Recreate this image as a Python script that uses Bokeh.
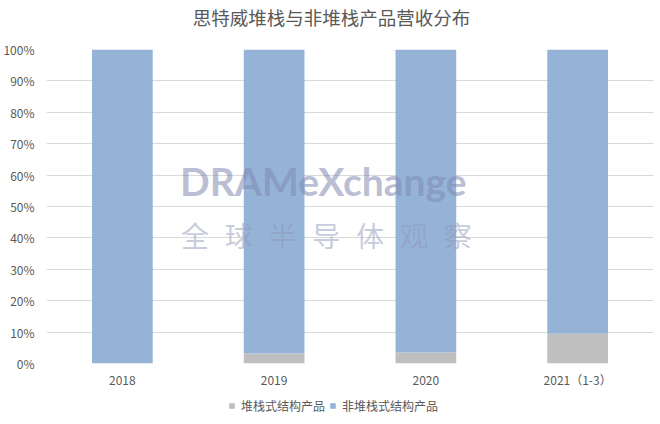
from bokeh.plotting import figure
from bokeh.models import (ColumnDataSource, FactorRange, Range1d, Label, Legend,
                          LegendItem, PrintfTickFormatter, FixedTicker)
from bokeh.layouts import column
from bokeh.embed import file_html
from bokeh.resources import INLINE

# ---- data ----
categories = ["2018", "2019", "2020", "2021（1-3）"]
stacked = [0.0, 3.2, 3.5, 9.5]
non_stacked = [100.0 - v for v in stacked]
series_names = ["堆栈式结构产品", "非堆栈式结构产品"]
title_text = "思特威堆栈与非堆栈产品营收分布"
y_ticks = [0, 10, 20, 30, 40, 50, 60, 70, 80, 90, 100]

FONT = "Noto Sans CJK SC"
TXT = "#595959"
GRID = "#d9d9d9"
colors = ["#bfbfbf", "#95b3d7"]
BL, BR = 46, 3

src = ColumnDataSource(dict(cat=categories, s=stacked, n=non_stacked))

# title strip
p0 = figure(width=656, height=34, x_range=Range1d(BL, 656 - BR),
            y_range=Range1d(0, 34),
            output_backend="svg", toolbar_location=None,
            min_border_left=BL, min_border_right=BR,
            min_border_top=0, min_border_bottom=0)
p0.axis.visible = False
p0.grid.grid_line_color = None
p0.outline_line_color = None
p0.add_layout(Label(x=331, y=18, text=title_text, text_font=FONT,
                    text_font_size="18.5px", text_color=TXT,
                    text_align="center", text_baseline="middle"))

p = figure(x_range=FactorRange(*categories, range_padding=0),
           y_range=Range1d(0, 100),
           width=656, height=365,
           output_backend="svg", toolbar_location=None,
           min_border_left=BL, min_border_right=BR,
           min_border_top=15, min_border_bottom=36)
p.outline_line_color = None
p.background_fill_color = "white"
p.border_fill_color = "white"

r = p.vbar_stack(["s", "n"], x="cat", width=0.4, source=src,
                 color=colors, line_color=None)

# axes
p.yaxis.ticker = FixedTicker(ticks=y_ticks)
p.yaxis.formatter = PrintfTickFormatter(format="%d%%")
p.yaxis.axis_line_color = None
p.yaxis.major_tick_line_color = None
p.yaxis.minor_tick_line_color = None
p.yaxis.major_label_text_font = FONT
p.yaxis.major_label_text_font_size = "12px"
p.yaxis.major_label_text_color = TXT
p.yaxis.major_label_standoff = 6

p.xaxis.axis_line_color = None
p.xaxis.major_tick_line_color = None
p.xaxis.minor_tick_line_color = None
p.xaxis.major_label_text_font = FONT
p.xaxis.major_label_text_font_size = "12px"
p.xaxis.major_label_text_color = TXT
p.xaxis.major_label_standoff = 1

p.xgrid.grid_line_color = None
p.ygrid.grid_line_color = GRID
p.ygrid.grid_line_width = 1

# watermark
p.add_layout(Label(x=1.824, y=58, text="DRAMeXchange", text_font="Lato",
                   text_font_style="bold", text_font_size="39px",
                   text_color="#8088b0", text_alpha=0.55,
                   text_align="center", text_baseline="middle"))
wm_chars = list("全球半导体观察")
for i, ch in enumerate(wm_chars):
    xx = (195 + i * 43.7 - 46.7) / 151.5
    p.add_layout(Label(x=xx, y=41, text=ch, text_font=FONT,
                       text_font_size="28px", text_color="#9098b8",
                       text_alpha=0.5, text_align="center",
                       text_baseline="middle"))

# legend strip: same bars, drawn outside its visible range, only for the key
p2 = figure(width=656, height=18, x_range=FactorRange(*categories),
            y_range=Range1d(1000, 1001),
            output_backend="svg", toolbar_location=None,
            min_border_left=BL, min_border_right=BR,
            min_border_top=0, min_border_bottom=0)
p2.axis.visible = False
p2.grid.grid_line_color = None
p2.outline_line_color = None
proxies = p2.vbar_stack(["s", "n"], x="cat", width=0.4, source=src,
                        color=colors, line_color=None)
legend = Legend(items=[LegendItem(label=series_names[i], renderers=[proxies[i]])
                       for i in range(2)],
                orientation="horizontal", location=(182, 3),
                label_text_font=FONT, label_text_font_size="12px",
                label_text_color=TXT, glyph_width=7, glyph_height=7,
                label_standoff=6, spacing=4, padding=0, margin=0,
                label_height=12, border_line_color=None,
                background_fill_alpha=0)
p2.add_layout(legend, "center")

open("out.html", "w").write(file_html(column(p0, p, p2), INLINE))
